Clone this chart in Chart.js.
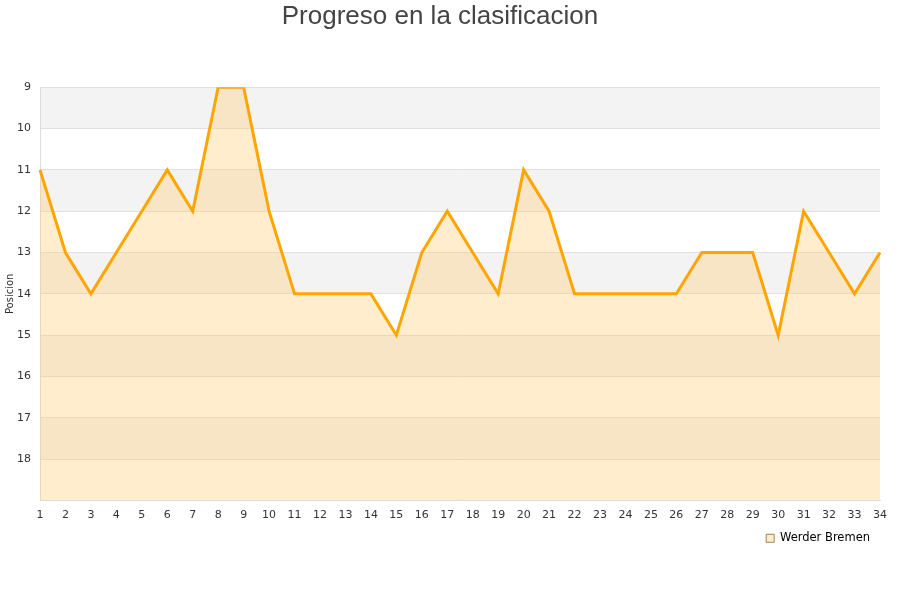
<!DOCTYPE html>
<html>
<head>
<meta charset="utf-8">
<script src="https://cdn.jsdelivr.net/npm/chart.js@4/dist/chart.umd.min.js"></script>
<style>
html,body{margin:0;padding:0;background:#fff;}
#wrap{width:900px;height:600px;}
</style>
</head>
<body>
<div id="wrap"><canvas id="c" width="900" height="600"></canvas></div>
<script>
const jornadas = ["1","2","3","4","5","6","7","8","9","10","11","12","13","14","15","16","17","18","19","20","21","22","23","24","25","26","27","28","29","30","31","32","33","34"];
const posiciones = [11,13,14,13,12,11,12,9,9,12,14,14,14,14,15,13,12,13,14,11,12,14,14,14,14,14,13,13,13,15,12,13,14,13];
const bandas = [[9,10],[11,12],[13,14],[15,16],[17,18]];
const equipo = "Werder Bremen";
const titulo = "Progreso en la clasificacion";

const bandPlugin = {
  id: 'bands',
  beforeDraw(chart) {
    const {ctx, chartArea, scales} = chart;
    ctx.save();
    ctx.fillStyle = '#f3f3f3';
    bandas.forEach(([a,b]) => {
      const y1 = scales.y.getPixelForValue(a);
      const y2 = scales.y.getPixelForValue(b);
      ctx.fillRect(chartArea.left, Math.min(y1,y2), chartArea.right - chartArea.left, Math.abs(y2-y1));
    });
    ctx.restore();
  }
};

new Chart(document.getElementById('c'), {
  type: 'line',
  data: {
    labels: jornadas,
    datasets: [{
      label: equipo,
      data: posiciones,
      borderColor: '#ffa500',
      backgroundColor: 'rgba(255,200,100,0.32)',
      borderWidth: 3,
      pointRadius: 0,
      tension: 0,
      fill: 'start'
    }]
  },
  options: {
    responsive: false,
    animation: false,
    layout: { padding: { left: 0, right: 20, top: 0, bottom: 46 } },
    plugins: {
      title: {
        display: true,
        text: titulo,
        color: '#444',
        font: { family: 'Liberation Sans, Arial, sans-serif', size: 26, weight: 'normal' },
        padding: { top: 1, bottom: 55 }
      },
      legend: {
        display: true,
        position: 'bottom',
        align: 'end',
        labels: {
          boxWidth: 8,
          boxHeight: 8,
          padding: 10,
          color: '#222',
          font: { family: 'DejaVu Sans', size: 11.5 },
          generateLabels(chart) {
            return [{
              text: equipo,
              fillStyle: 'rgba(255,200,100,0.32)',
              strokeStyle: '#a08050',
              lineWidth: 1,
              datasetIndex: 0,
              hidden: false
            }];
          }
        }
      },
      tooltip: { enabled: false }
    },
    scales: {
      x: {
        offset: false,
        afterFit(scale) { scale.height = 22; },
        grid: { display: false, drawTicks: false },
        border: { display: true, color: '#ddd' },
        ticks: {
          color: '#333',
          font: { family: 'DejaVu Sans', size: 11 },
          maxRotation: 0,
          autoSkip: false,
          padding: 8
        }
      },
      y: {
        reverse: true,
        min: 9,
        max: 19,
        afterFit(scale) { scale.width = 40; },
        grid: { color: '#e0e0e0', drawTicks: false },
        border: { display: true, color: '#ddd' },
        title: {
          display: true,
          text: 'Posicion',
          color: '#333',
          font: { family: 'DejaVu Sans', size: 10 },
          padding: { top: 4, bottom: 0 }
        },
        ticks: {
          stepSize: 1,
          color: '#333',
          font: { family: 'DejaVu Sans', size: 11 },
          padding: 9,
          callback: (v) => v === 19 ? '' : v
        }
      }
    }
  },
  plugins: [bandPlugin]
});
</script>
</body>
</html>
